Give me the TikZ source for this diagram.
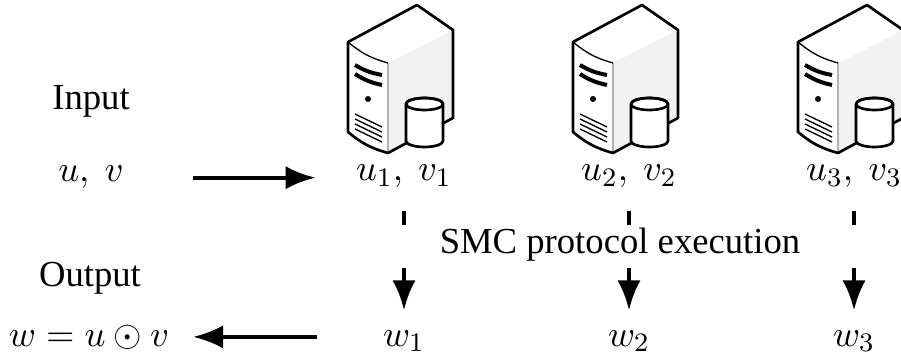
\documentclass[tikz,border=0pt]{standalone}
\usepackage[no-math]{fontspec}
\setmainfont{Liberation Serif}
\usetikzlibrary{calc}
\usetikzlibrary{arrows.meta}

\begin{document}
\begin{tikzpicture}[
		x=0.3pt, y=-0.3pt,
		font=\fontsize{11}{13}\selectfont,
		lbl/.style={inner sep=1pt, anchor=base},
		flow/.style={line width=1.2pt, -{Latex[length=9pt,width=7pt]}},
		run/.style={flow, dash pattern=on 7.2pt off 12.9pt, dash phase=3pt},
		edge/.style={line width=0.8pt, line join=round},
		server/.pic={
			\fill[black!5] (40,21) -- (105,-12) -- (105,76) -- (40,111) -- cycle;
			\draw[black!30, thin] (40,21) -- (40,111);
			\draw[thin] (0,0) to[bend right=12] (40,21);
			\draw[edge] (0,0) -- (69,-37) -- (105,-12) -- (105,76) -- (40,111)
				to[bend left=12] (0,90) -- cycle;
			\draw[line width=1.2pt] (7,23) to[bend right=10] (34,33);
			\draw[line width=1.2pt] (7,32) to[bend right=10] (34,43);
			\fill (20,57) circle[radius=3];
			\draw[thin] (7,72) -- (34,85);
			\draw[thin] (7,77) -- (34,90);
			\draw[thin] (7,82) -- (34,95);
			\draw[thin] (7,87) -- (34,100);
			\filldraw[edge, fill=white] (58,62) -- (58,99)
				arc[start angle=180, end angle=0, x radius=18.5, y radius=6]
				-- (95,62) arc[start angle=0, end angle=-180, x radius=18.5, y radius=6] -- cycle;
			\draw[edge] (76.5,62) ellipse[x radius=18.5, y radius=6];
		},
	]
	\useasboundingbox (0,0) rectangle (901,356);
	\clip (0,0) rectangle (901,356);
	% parties
	\coordinate (c1) at (404,181);
	\coordinate (c2) at (629,181);
	\coordinate (c3) at (854,181);
	\pic at ($(c1)+(-56,-139)$) {server};
	\pic at ($(c2)+(-56,-139)$) {server};
	\pic at ($(c3)+(-56,-139)$) {server};
	\node[lbl] (s1) at (c1) {$u_1,~v_1$};
	\node[lbl] (s2) at (c2) {$u_2,~v_2$};
	\node[lbl] (s3) at (c3) {$u_3,~v_3$};
	\node[lbl] (w1) at ($(c1)+(0,165)$) {$w_1$};
	\node[lbl] (w2) at ($(c2)+(0,165)$) {$w_2$};
	\node[lbl] (w3) at ($(c3)+(0,165)$) {$w_3$};
	\draw[run, shorten <=5.7pt, shorten >=4.8pt] (s1) -- (w1);
	\draw[run, shorten <=5.7pt, shorten >=4.8pt] (s2) -- (w2);
	\draw[run, shorten <=5.7pt, shorten >=4.8pt] (s3) -- (w3);
	\node[lbl] (smc) at (620,254) {SMC protocol execution};
	% input and output
	\node[lbl] (in) at (91,110) {Input};
	\node[lbl] (uv) at (91,182) {$u,~v$};
	\node[lbl] (out) at (90,287) {Output};
	\node[lbl] (w) at (89,346) {$w = u \odot v$};
	\draw[flow, shorten <=19.5pt, shorten >=11pt] (uv.east) -- (uv.east -| s1.west);
	\draw[flow, shorten <=18.5pt, shorten >=6pt] (w.east -| w1.west) -- (w.east);
\end{tikzpicture}
\end{document}
